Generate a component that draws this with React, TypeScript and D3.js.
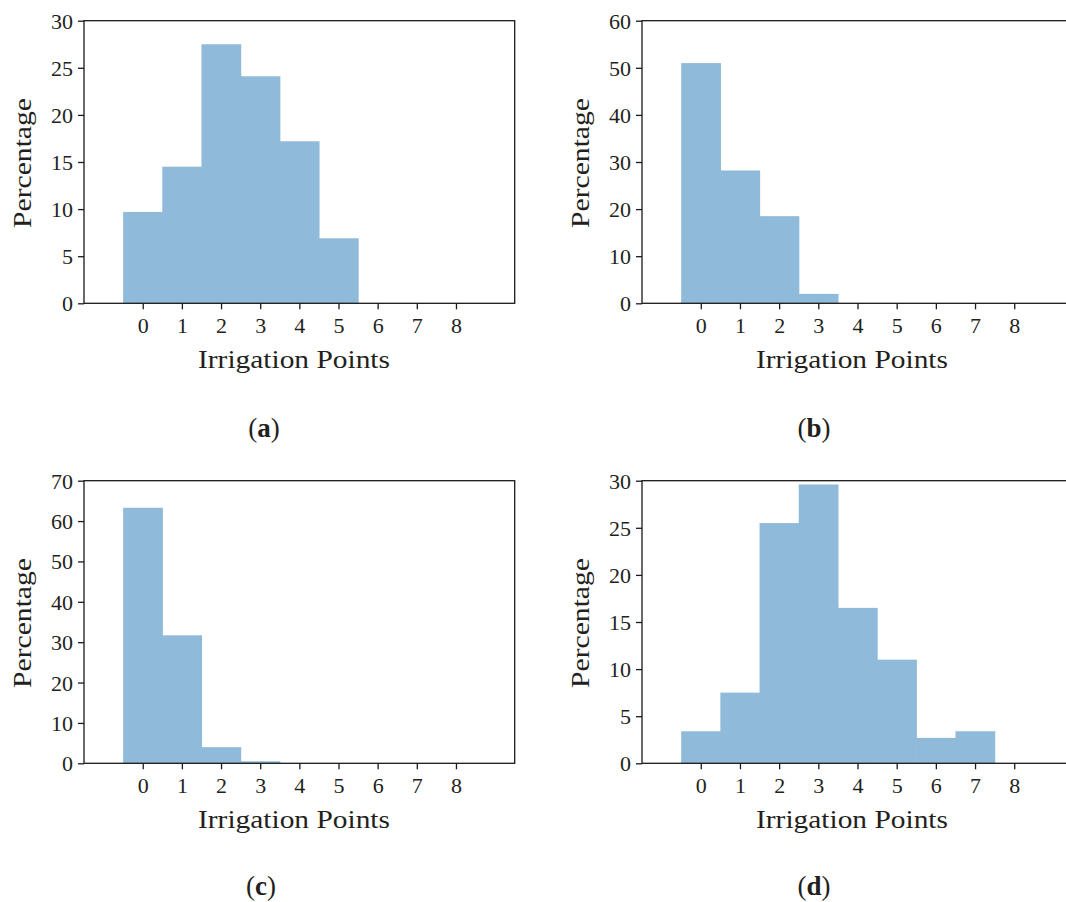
import React, { useEffect, useRef } from 'react';
import * as d3 from 'd3';

// Histogram bins (irrigation points) and the percentages for each panel
const binLabels = [0, 1, 2, 3, 4, 5, 6, 7, 8];
const percentA = [9.7, 14.5, 27.5, 24.1, 17.2, 6.9, 0, 0, 0];
const percentB = [51.0, 28.2, 18.5, 2.0, 0, 0, 0, 0, 0];
const percentC = [63.3, 31.7, 4.0, 0.5, 0, 0, 0, 0, 0];
const percentD = [3.4, 7.5, 25.5, 29.6, 16.5, 11.0, 2.7, 3.4, 0];
const panelLetters = ['a', 'b', 'c', 'd'];
const yMaxes = [30, 60, 70, 30];
const yTickSteps = [5, 10, 10, 5];

const FONT = 'Liberation Serif, Times New Roman, serif';
const TEXT_COLOR = '#231f20';
const BAR_COLOR = '#8fbad9';

// Placement of each panel's axes box on the page
const panelBoxes = [
    { left: 84, top: 20.7, width: 430.7, height: 282.6, letterX: 264, letterY: 437 },
    { left: 642, top: 20.7, width: 431, height: 282.6, letterX: 814, letterY: 437 },
    { left: 84, top: 480.7, width: 430.7, height: 282.6, letterX: 261, letterY: 895 },
    { left: 642, top: 480.7, width: 431, height: 282.6, letterX: 814, letterY: 895 },
];

function Panel({ svgRef, values, yMax, yStep, box, letter }) {
    const g = d3.select(svgRef).append('g')
        .attr('transform', 'translate(' + box.left + ',' + box.top + ')');

    const xScale = d3.scaleLinear().domain([-1.5, 9.5]).range([0, box.width]);
    const yScale = d3.scaleLinear().domain([0, yMax]).range([box.height, 0]);

    // bars: each bin spans [k - 0.5, k + 0.5]
    g.selectAll('.bar')
        .data(binLabels.map((k, i) => ({ k, v: values[i] })).filter((d) => d.v > 0))
        .enter().append('rect')
        .attr('class', 'bar')
        .attr('x', (d) => xScale(d.k - 0.5))
        .attr('width', (d) => xScale(d.k + 0.5) - xScale(d.k - 0.5) + 0.6) // small overlap hides seams
        .attr('y', (d) => yScale(d.v))
        .attr('height', (d) => yScale(0) - yScale(d.v))
        .attr('fill', BAR_COLOR);

    // frame
    g.append('rect')
        .attr('width', box.width)
        .attr('height', box.height)
        .attr('fill', 'none')
        .attr('stroke', '#1a1a1a')
        .attr('stroke-width', 1.3);

    const xAxis = d3.axisBottom(xScale).tickValues(binLabels).tickSize(6).tickPadding(8);
    const yAxis = d3.axisLeft(yScale).tickValues(d3.range(0, yMax + 0.001, yStep)).tickSize(6).tickPadding(5);

    const xg = g.append('g').attr('transform', 'translate(0,' + box.height + ')').call(xAxis);
    const yg = g.append('g').call(yAxis);
    [xg, yg].forEach((ax) => {
        ax.select('.domain').remove();
        ax.selectAll('line').attr('stroke', '#1a1a1a').attr('stroke-width', 1.3);
        ax.selectAll('text')
            .attr('fill', TEXT_COLOR)
            .style('font-family', FONT)
            .style('font-size', '22px');
    });
    yg.selectAll('text').attr('dy', '0.34em');

    // axis titles
    g.append('text')
        .attr('x', 210)
        .attr('y', box.height + 64.4)
        .attr('text-anchor', 'middle')
        .attr('textLength', 192)
        .attr('lengthAdjust', 'spacingAndGlyphs')
        .attr('fill', TEXT_COLOR)
        .style('font-family', FONT)
        .style('font-size', '26px')
        .text('Irrigation Points');

    g.append('text')
        .attr('transform', 'translate(-53,' + (box.height / 2 + 1) + ') rotate(-90)')
        .attr('text-anchor', 'middle')
        .attr('textLength', 130)
        .attr('lengthAdjust', 'spacingAndGlyphs')
        .attr('fill', TEXT_COLOR)
        .style('font-family', FONT)
        .style('font-size', '26px')
        .text('Percentage');

    // panel letter, e.g. (a)
    const lt = d3.select(svgRef).append('text')
        .attr('x', box.letterX)
        .attr('y', box.letterY)
        .attr('text-anchor', 'middle')
        .attr('fill', TEXT_COLOR)
        .style('font-family', FONT)
        .style('font-size', '27px');
    lt.append('tspan').text('(');
    lt.append('tspan').style('font-weight', 'bold').text(letter);
    lt.append('tspan').text(')');
}

function App() {
    const chartElement = useRef(null);

    useEffect(() => {
        const svg = chartElement.current;
        d3.select(svg).html('');
        const series = [percentA, percentB, percentC, percentD];
        series.forEach((values, i) => {
            Panel({
                svgRef: svg,
                values,
                yMax: yMaxes[i],
                yStep: yTickSteps[i],
                box: panelBoxes[i],
                letter: panelLetters[i],
            });
        });
    }, []);

    return (
        <svg
            ref={chartElement}
            width={1066}
            height={902}
            style={{ position: 'absolute', left: 0, top: 0, background: '#fff' }}
        ></svg>
    );
}

export default App;
